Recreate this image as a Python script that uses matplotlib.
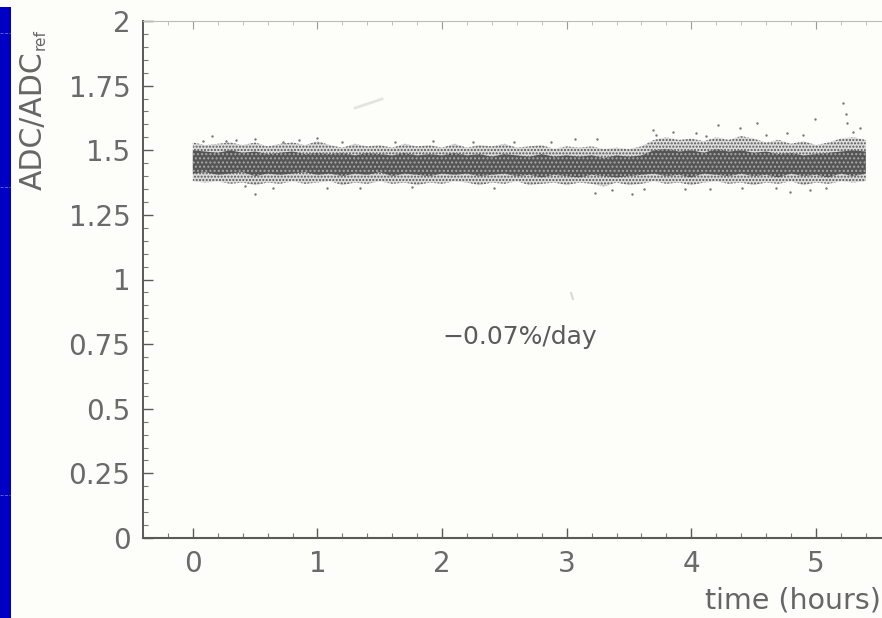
"""Drift of ADC/ADC_ref over a few hours, scanned slide look."""

import matplotlib
matplotlib.use("Agg")
import matplotlib.pyplot as plt
import matplotlib.ticker as ticker
from matplotlib.patches import Rectangle

# Band, column by column: edges and dense core of the point cloud
hours = [0.0, 0.1, 0.2, 0.3, 0.4, 0.5, 0.6, 0.7, 0.8, 0.9, 1.0, 1.1, 1.2, 1.3,
         1.4, 1.5, 1.6, 1.7, 1.8, 1.9, 2.0, 2.1, 2.2, 2.3, 2.4, 2.5, 2.6, 2.7,
         2.8, 2.9, 3.0, 3.1, 3.2, 3.3, 3.4, 3.5, 3.6, 3.7, 3.8, 3.9, 4.0, 4.1,
         4.2, 4.3, 4.4, 4.5, 4.6, 4.7, 4.8, 4.9, 5.0, 5.1, 5.2, 5.3, 5.4]
outer_high = [1.53, 1.52, 1.525, 1.53, 1.52, 1.53, 1.515, 1.525, 1.53, 1.52, 1.535, 1.52, 1.51, 1.525,
              1.515, 1.52, 1.51, 1.525, 1.515, 1.52, 1.51, 1.525, 1.51, 1.52, 1.515, 1.525, 1.51, 1.515,
              1.52, 1.505, 1.515, 1.51, 1.515, 1.505, 1.51, 1.505, 1.515, 1.54, 1.55, 1.54, 1.545, 1.535,
              1.55, 1.54, 1.555, 1.545, 1.53, 1.54, 1.525, 1.535, 1.52, 1.53, 1.545, 1.55, 1.54]
outer_low = [1.38, 1.375, 1.38, 1.37, 1.375, 1.365, 1.375, 1.37, 1.38, 1.37, 1.375, 1.38, 1.365, 1.375,
             1.37, 1.38, 1.37, 1.375, 1.365, 1.375, 1.37, 1.38, 1.375, 1.365, 1.375, 1.37, 1.38, 1.365,
             1.37, 1.375, 1.365, 1.375, 1.37, 1.36, 1.375, 1.365, 1.37, 1.38, 1.37, 1.375, 1.365, 1.375,
             1.38, 1.37, 1.375, 1.365, 1.375, 1.37, 1.38, 1.365, 1.375, 1.37, 1.38, 1.375, 1.38]
core_high = [1.50, 1.495, 1.49, 1.50, 1.49, 1.495, 1.485, 1.49, 1.495, 1.485, 1.49, 1.485, 1.49, 1.48,
             1.49, 1.485, 1.48, 1.49, 1.48, 1.485, 1.48, 1.49, 1.48, 1.485, 1.475, 1.485, 1.48, 1.475,
             1.485, 1.475, 1.48, 1.475, 1.48, 1.47, 1.48, 1.475, 1.48, 1.50, 1.505, 1.495, 1.50, 1.49,
             1.505, 1.495, 1.50, 1.49, 1.495, 1.485, 1.49, 1.48, 1.485, 1.49, 1.495, 1.50, 1.495]
core_low = [1.41, 1.415, 1.405, 1.41, 1.415, 1.40, 1.41, 1.405, 1.41, 1.415, 1.405, 1.41, 1.40, 1.41,
            1.405, 1.415, 1.40, 1.41, 1.405, 1.40, 1.41, 1.405, 1.41, 1.40, 1.405, 1.41, 1.40, 1.405,
            1.395, 1.405, 1.40, 1.395, 1.405, 1.40, 1.395, 1.40, 1.405, 1.41, 1.40, 1.405, 1.395, 1.41,
            1.405, 1.40, 1.41, 1.40, 1.405, 1.395, 1.41, 1.40, 1.405, 1.395, 1.41, 1.40, 1.41]

# Stray points above and below the band
stray_x = [5.22, 4.99, 4.53, 4.21, 4.39, 5.25, 5.35, 4.04, 4.77, 3.69, 4.9, 3.52, 3.23, 4.41, 4.79,
           3.07, 3.24, 0.5, 0.64, 0.15, 0.35, 0.5, 1.0, 1.34, 0.72, 3.72, 3.85, 4.12, 4.6, 5.3,
           5.24, 0.08, 0.27, 0.85, 1.2, 1.62, 1.93, 2.25, 2.58, 2.87, 3.62, 4.15, 4.68, 5.08,
           0.42, 1.08, 1.76, 2.42, 3.36, 3.95, 4.95]
stray_y = [1.683, 1.62, 1.605, 1.597, 1.586, 1.605, 1.586, 1.566, 1.566, 1.578, 1.559, 1.331, 1.334, 1.354, 1.339,
           1.543, 1.543, 1.331, 1.354, 1.555, 1.54, 1.543, 1.547, 1.354, 1.532, 1.56, 1.57, 1.555, 1.56, 1.57,
           1.64, 1.535, 1.535, 1.54, 1.53, 1.53, 1.535, 1.53, 1.53, 1.53, 1.352, 1.35, 1.355, 1.353,
           1.36, 1.355, 1.358, 1.355, 1.345, 1.35, 1.345]

x_ticks = [0, 1, 2, 3, 4, 5]
y_ticks = [0, 0.25, 0.5, 0.75, 1, 1.25, 1.5, 1.75, 2]
y_labels = ["0", "0.25", "0.5", "0.75", "1", "1.25", "1.5", "1.75", "2"]

W, H = 882, 618
paper = "#fdfdf9"
ink = "#5a5a5a"

plt.rcParams["hatch.linewidth"] = 1.0

fig = plt.figure(figsize=(W / 100, H / 100), dpi=100, facecolor=paper)
ax = fig.add_axes([143 / W, 1 - 538 / H, (W - 143) / W, (538 - 21) / H])
ax.set_facecolor(paper)
ax.set_xlim(-0.4, 5.53)
ax.set_ylim(0, 2)

# Blue slide edge
fig.add_artist(Rectangle((0, 0), 11 / W, 1 - 7 / H, transform=fig.transFigure,
                         facecolor="#0000c4", edgecolor="none"))
for py in [33, 187, 495]:
    fig.add_artist(plt.Line2D([0, 10 / W], [1 - py / H, 1 - py / H], color="#6a6ae0", lw=0.6, ls="--"))

# Scan dirt
fig.add_artist(plt.Line2D([355 / W, 382 / W], [1 - 108 / H, 1 - 99 / H], color="#e4e4e0", lw=2))
fig.add_artist(plt.Line2D([571 / W, 573 / W], [1 - 293 / H, 1 - 299 / H], color="#d8d8d4", lw=1.5))

# Point cloud
ax.fill_between(hours, outer_low, outer_high, facecolor="#dcdcdc", edgecolor="#555555",
                hatch=".....", linewidth=0)
ax.fill_between(hours, core_low, core_high, facecolor="#555555", edgecolor="#a8a8a8",
                hatch="....", linewidth=0)
ax.scatter(stray_x, stray_y, s=3, color="#777777", linewidths=0)

ax.text(442 / W, 1 - 337 / H, "\u22120.07%/day", transform=fig.transFigure, ha="left", va="center",
        fontsize=18, color=ink)

# Axes
ax.spines["right"].set_visible(False)
ax.spines["top"].set_color("#bdbdb8")
ax.spines["top"].set_linewidth(0.8)
ax.spines["left"].set_color(ink)
ax.spines["left"].set_linewidth(1.4)
ax.spines["bottom"].set_color(ink)
ax.spines["bottom"].set_linewidth(1.5)

ax.set_xticks(x_ticks)
ax.set_yticks(y_ticks)
ax.set_yticklabels(y_labels)
ax.xaxis.set_minor_locator(ticker.MultipleLocator(0.2))
ax.yaxis.set_minor_locator(ticker.MultipleLocator(0.05))
ax.tick_params(axis="both", which="major", direction="in", length=7, width=1.0, color=ink,
               labelsize=20, labelcolor="#6a6a6a")
ax.tick_params(axis="both", which="minor", direction="in", length=3.5, width=0.8, color="#777777")
ax.tick_params(axis="x", which="major", pad=9)
ax.tick_params(axis="y", which="major", pad=9)

top = ax.secondary_xaxis("top")
top.set_xticks(x_ticks)
top.xaxis.set_minor_locator(ticker.MultipleLocator(0.2))
top.tick_params(axis="x", which="major", direction="in", length=6, width=0.8, color="#9a9a9a", labeltop=False)
top.tick_params(axis="x", which="minor", direction="in", length=3, width=0.7, color="#c0c0bc")
top.spines["top"].set_visible(False)

fig.text(881 / W, 1 - 601 / H, "time (hours)", ha="right", va="center", fontsize=20.5, color="#666666")
fig.text(33 / W, 1 - 190 / H, "ADC/ADC", rotation=90, ha="center", va="bottom", fontsize=21.5, color="#666666")
fig.text(40 / W, 1 - 50 / H, "ref", rotation=90, ha="center", va="bottom", fontsize=11, color="#666666")

fig.savefig("out.png", dpi=100, facecolor=paper)
